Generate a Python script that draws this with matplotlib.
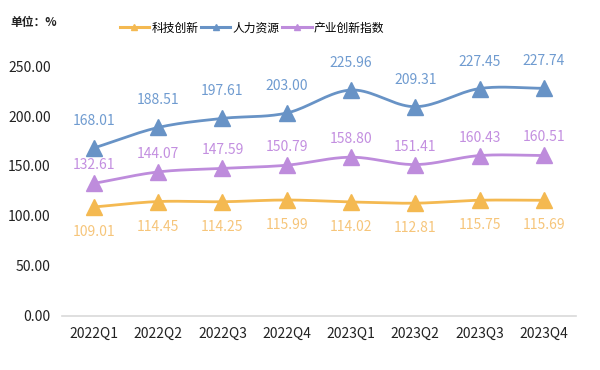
import numpy as np
import matplotlib
matplotlib.use("Agg")
import matplotlib.pyplot as plt

plt.rcParams['font.family'] = ['Noto Sans CJK SC', 'DejaVu Sans']

categories = ["2022Q1", "2022Q2", "2022Q3", "2022Q4", "2023Q1", "2023Q2", "2023Q3", "2023Q4"]
tech = [109.01, 114.45, 114.25, 115.99, 114.02, 112.81, 115.75, 115.69]
human = [168.01, 188.51, 197.61, 203.00, 225.96, 209.31, 227.45, 227.74]
industry = [132.61, 144.07, 147.59, 150.79, 158.80, 151.41, 160.43, 160.51]
series_names = ["科技创新", "人力资源", "产业创新指数"]
yticks = [0, 50, 100, 150, 200, 250]

line_colors = ["#F4B951", "#6893C6", "#BE8CDC"]
label_colors = ["#F6C57A", "#6F9BD0", "#C38FE0"]
offsets = [-25, 27, 18]


def smooth(x, y, n=20):
    x = np.asarray(x, float); y = np.asarray(y, float)
    px = np.concatenate([[2 * x[0] - x[1]], x, [2 * x[-1] - x[-2]]])
    py = np.concatenate([[2 * y[0] - y[1]], y, [2 * y[-1] - y[-2]]])
    xs, ys = [], []
    for i in range(1, len(px) - 2):
        t = np.linspace(0, 1, n, endpoint=False)
        for arr, out in ((px, xs), (py, ys)):
            p0, p1, p2, p3 = arr[i - 1], arr[i], arr[i + 1], arr[i + 2]
            out.extend(0.5 * ((2 * p1) + (-p0 + p2) * t + (2 * p0 - 5 * p1 + 4 * p2 - p3) * t ** 2
                              + (-p0 + 3 * p1 - 3 * p2 + p3) * t ** 3))
    xs.append(x[-1]); ys.append(y[-1])
    return np.array(xs), np.array(ys)


fig = plt.figure(figsize=(6, 3.7), dpi=100)
ax = fig.add_axes([0.103, 0.146, 0.857, 0.6756])
x = np.arange(len(categories))

for vals, name, lc, tc, off in zip([tech, human, industry], series_names, line_colors, label_colors, offsets):
    sx, sy = smooth(x, vals)
    ax.plot(sx, sy, color=lc, lw=2.0, zorder=2)
    ax.plot(x, vals, linestyle='none', marker='^', markersize=11.5, color=lc, zorder=3)
    ax.plot([], [], color=lc, lw=2.2, marker='^', markersize=5, label=name)
    for xi, v in zip(x, vals):
        ax.annotate(f"{v:.2f}", (xi, v), xytext=(0, off), textcoords='offset pixels',
                    ha='center', va='center', color=tc, fontsize=10)

ax.set_xlim(-0.5, len(categories) - 0.5)
ax.set_ylim(0, 250)
ax.set_yticks(yticks)
ax.set_yticklabels([f"{v:.2f}" for v in yticks], fontsize=10, color="#222222")
ax.set_xticks(x)
ax.set_xticklabels(categories, fontsize=10, color="#222222")
ax.tick_params(length=0, pad=8)
for s in ['top', 'right', 'left']:
    ax.spines[s].set_visible(False)
ax.spines['bottom'].set_color('#D9D9D9')
ax.spines['bottom'].set_linewidth(1.2)

fig.text(0.017, 0.94, "单位：%", fontsize=8.5, fontweight='bold', ha='left', va='center', color="#222222")
fig.legend(loc='center', bbox_to_anchor=(0.42, 0.924), ncol=3, frameon=False, fontsize=8.5,
           handlelength=2.5, handletextpad=0.2, columnspacing=0.2, borderpad=0.2)

fig.savefig("out.png", dpi=100)
